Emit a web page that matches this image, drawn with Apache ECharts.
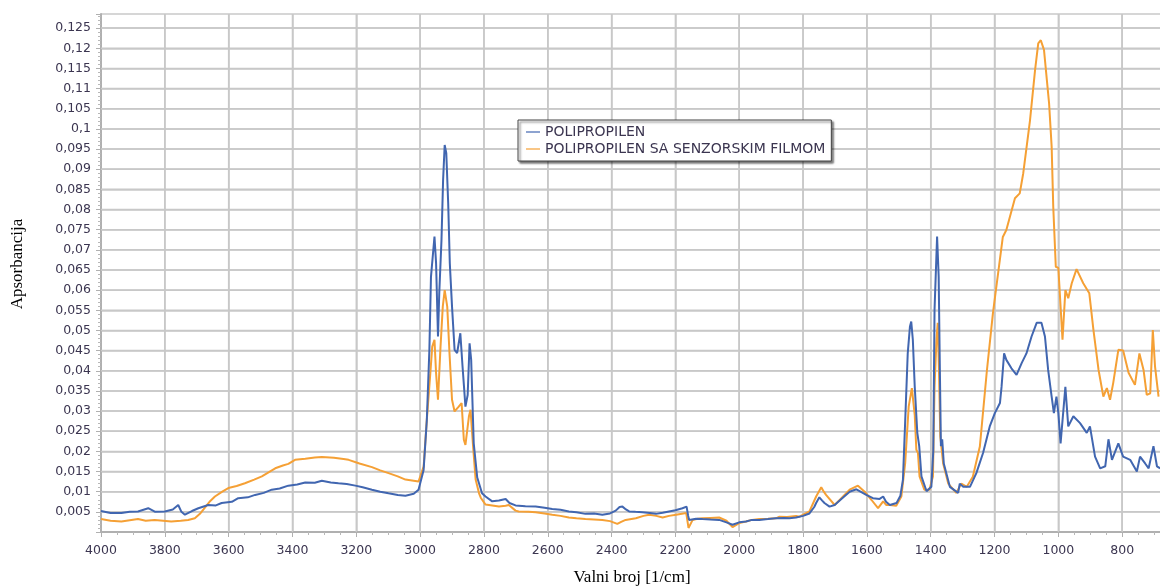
<!DOCTYPE html>
<html>
<head>
<meta charset="utf-8">
<script src="https://cdn.jsdelivr.net/npm/echarts@6/dist/echarts.min.js"></script>
<style>
html,body{margin:0;padding:0;background:#fff;}
#c{width:1160px;height:588px;}
</style>
</head>
<body>
<div id="c"></div>
<script>
const seriesNames = ['POLIPROPILEN', 'POLIPROPILEN SA SENZORSKIM FILMOM'];
const xTitle = 'Valni broj [1/cm]';
const yTitle = 'Apsorbancija';

const blueWave = [4000,3970,3936,3910,3884,3852,3830,3800,3775,3758,3748,3737,3715,3695,3664,3640,3622,3590,3570,3540,3517,3490,3465,3440,3413,3385,3360,3330,3308,3280,3256,3230,3203,3180,3151,3125,3099,3070,3046,3020,3005,2989,2979,2971,2966,2955,2950,2944,2940,2933,2928,2923,2918,2912,2907,2900,2892,2884,2874,2867,2858,2851,2845,2840,2832,2821,2806,2795,2774,2753,2732,2720,2701,2670,2638,2610,2586,2560,2534,2510,2482,2455,2429,2405,2387,2375,2366,2355,2345,2325,2303,2280,2261,2240,2220,2200,2178,2165,2160,2157,2135,2115,2090,2063,2040,2021,2000,1979,1960,1937,1910,1885,1860,1843,1822,1800,1780,1765,1759,1749,1740,1733,1717,1701,1680,1654,1633,1620,1602,1581,1560,1549,1540,1528,1507,1495,1487,1479,1472,1465,1461,1456,1450,1442,1436,1429,1413,1398,1392,1388,1380,1375,1372,1368,1364,1359,1340,1314,1309,1298,1277,1257,1236,1215,1199,1183,1178,1170,1163,1147,1131,1115,1100,1084,1068,1053,1042,1032,1021,1014,1006,1000,993,989,978,969,953,932,911,901,885,869,853,843,832,812,797,775,754,744,728,717,702,691,681];
const blueAbs = [0.0052,0.0047,0.0047,0.0050,0.0051,0.0059,0.0050,0.0051,0.0056,0.0067,0.0050,0.0043,0.0052,0.0059,0.0067,0.0066,0.0072,0.0075,0.0084,0.0086,0.0092,0.0097,0.0105,0.0108,0.0115,0.0118,0.0123,0.0122,0.0127,0.0123,0.0121,0.0119,0.0115,0.0111,0.0105,0.0100,0.0096,0.0092,0.0090,0.0095,0.0105,0.0154,0.0278,0.0452,0.0633,0.0733,0.0667,0.0485,0.0593,0.0725,0.0873,0.0960,0.0940,0.0815,0.0667,0.0559,0.0452,0.0444,0.0493,0.0410,0.0311,0.0340,0.0468,0.0427,0.0220,0.0135,0.0096,0.0088,0.0076,0.0078,0.0082,0.0072,0.0066,0.0064,0.0063,0.0060,0.0057,0.0055,0.0051,0.0049,0.0045,0.0046,0.0043,0.0046,0.0053,0.0062,0.0063,0.0056,0.0051,0.0050,0.0049,0.0047,0.0045,0.0048,0.0051,0.0054,0.0059,0.0063,0.0040,0.0030,0.0033,0.0032,0.0031,0.0030,0.0024,0.0018,0.0024,0.0026,0.0030,0.0030,0.0032,0.0034,0.0035,0.0034,0.0036,0.0040,0.0046,0.0062,0.0072,0.0086,0.0078,0.0072,0.0063,0.0067,0.0082,0.0100,0.0106,0.0100,0.0092,0.0084,0.0082,0.0088,0.0075,0.0067,0.0072,0.0090,0.0130,0.0295,0.0443,0.0510,0.0522,0.0477,0.0360,0.0246,0.0213,0.0138,0.0101,0.0112,0.0200,0.0551,0.0733,0.0633,0.0443,0.0213,0.0230,0.0170,0.0112,0.0097,0.0120,0.0112,0.0112,0.0146,0.0196,0.0262,0.0295,0.0320,0.0360,0.0443,0.0427,0.0406,0.0390,0.0419,0.0443,0.0485,0.0519,0.0519,0.0485,0.0402,0.0336,0.0295,0.0336,0.0295,0.0220,0.0216,0.0360,0.0262,0.0287,0.0270,0.0246,0.0262,0.0187,0.0158,0.0163,0.0230,0.0179,0.0220,0.0187,0.0179,0.0150,0.0187,0.0170,0.0158,0.0213,0.0163,0.0158];

const orangeWave = [4000,3970,3936,3910,3884,3860,3832,3805,3780,3750,3727,3706,3690,3680,3660,3643,3620,3601,3575,3549,3520,3496,3475,3454,3430,3413,3392,3360,3330,3308,3270,3240,3224,3190,3151,3125,3099,3070,3046,3005,2989,2979,2968,2962,2955,2950,2944,2936,2929,2923,2915,2908,2900,2892,2879,2870,2863,2858,2847,2842,2834,2826,2815,2810,2795,2774,2753,2732,2722,2701,2691,2660,2638,2610,2586,2560,2534,2510,2482,2455,2429,2405,2382,2370,2356,2324,2300,2282,2260,2240,2220,2198,2166,2159,2146,2130,2115,2090,2063,2040,2021,2000,1979,1960,1937,1910,1885,1874,1850,1822,1811,1780,1759,1743,1735,1728,1701,1680,1654,1628,1607,1586,1565,1549,1539,1528,1508,1492,1480,1469,1459,1450,1445,1440,1435,1420,1404,1393,1388,1382,1378,1374,1370,1361,1345,1320,1304,1287,1268,1246,1224,1205,1174,1163,1136,1121,1110,1089,1073,1063,1055,1045,1029,1021,1016,1008,1000,987,981,978,969,958,943,922,903,890,874,859,848,838,828,812,797,780,760,746,733,723,712,704,697,686];
const orangeAbs = [0.0032,0.0028,0.0026,0.0029,0.0032,0.0028,0.0030,0.0028,0.0026,0.0028,0.0030,0.0034,0.0045,0.0055,0.0075,0.0088,0.0100,0.0109,0.0114,0.0121,0.0130,0.0138,0.0148,0.0158,0.0165,0.0169,0.0179,0.0182,0.0185,0.0186,0.0184,0.0181,0.0179,0.0170,0.0161,0.0153,0.0146,0.0138,0.0130,0.0125,0.0162,0.0278,0.0394,0.0460,0.0477,0.0394,0.0328,0.0460,0.0559,0.0600,0.0559,0.0444,0.0328,0.0299,0.0311,0.0320,0.0229,0.0216,0.0287,0.0303,0.0212,0.0130,0.0095,0.0085,0.0068,0.0066,0.0063,0.0065,0.0067,0.0053,0.0051,0.0050,0.0049,0.0046,0.0043,0.0040,0.0036,0.0034,0.0032,0.0031,0.0030,0.0027,0.0020,0.0025,0.0030,0.0034,0.0040,0.0043,0.0040,0.0036,0.0040,0.0043,0.0047,0.0010,0.0030,0.0033,0.0034,0.0035,0.0036,0.0028,0.0012,0.0022,0.0026,0.0030,0.0032,0.0033,0.0034,0.0038,0.0037,0.0040,0.0038,0.0051,0.0088,0.0111,0.0100,0.0092,0.0067,0.0084,0.0105,0.0115,0.0100,0.0080,0.0059,0.0076,0.0067,0.0067,0.0065,0.0088,0.0171,0.0311,0.0357,0.0290,0.0204,0.0196,0.0138,0.0105,0.0105,0.0138,0.0360,0.0477,0.0519,0.0400,0.0237,0.0170,0.0120,0.0097,0.0120,0.0112,0.0137,0.0212,0.0400,0.0543,0.0732,0.0749,0.0828,0.0840,0.0890,0.1020,0.1146,0.1212,0.1220,0.1196,0.1063,0.0956,0.0807,0.0658,0.0655,0.0477,0.0475,0.0600,0.0580,0.0617,0.0652,0.0617,0.0592,0.0501,0.0402,0.0336,0.0357,0.0328,0.0370,0.0452,0.0450,0.0395,0.0365,0.0443,0.0402,0.0340,0.0344,0.0501,0.0410,0.0336];

// gridline tick values
const xGridVals = [3800,3600,3400,3200,3000,2800,2600,2400,2200,2000,1800,1600,1400,1200,1000,800];
const yGridVals = [0.005,0.01,0.015,0.02,0.025,0.03,0.035,0.04,0.045,0.05,0.055,0.06,0.065,0.07,0.075,0.08,0.085,0.09,0.095,0.1,0.105,0.11,0.115,0.12,0.125];

const xMin = 600, xMax = 4000, yMin = 0, yMax = 0.1285;
const xTickStep = 200;
const yTickStep = 0.005;

function pairs(xs, ys) { return xs.map((x, i) => [x, ys[i]]); }

// grid line segments built from tick values and axis extent, separated by gaps
function gridSegments() {
  const out = [];
  xGridVals.forEach(v => { out.push([v, yMin], [v, yMax], ['-', '-']); });
  yGridVals.forEach(v => { out.push([xMin, v], [xMax, v], ['-', '-']); });
  return out;
}

const chart = echarts.init(document.getElementById('c'));
const labelFont = 'DejaVu Sans';
const labelColor = '#3b3550';
const colors = ['#4166b0', '#f5a035'];
const gridColor = '#c8c8c8';

chart.setOption({
  animation: false,
  grid: {left: 101, width: 1085, top: 14, height: 518, outerBoundsMode: 'none'},
  legend: {
    orient: 'vertical',
    left: 518, top: 120,
    padding: [5, 6, 5, 8],
    itemGap: 3,
    itemWidth: 14,
    itemHeight: 2,
    icon: 'rect',
    backgroundColor: '#ffffff',
    borderColor: '#444444',
    borderWidth: 1,
    shadowColor: 'rgba(0,0,0,0.55)',
    shadowBlur: 2,
    shadowOffsetX: 2,
    shadowOffsetY: 2,
    textStyle: {fontFamily: labelFont, fontSize: 14, color: labelColor},
    data: seriesNames.map((n, i) => ({name: n, itemStyle: {color: colors[i], opacity: 0.6}}))
  },
  xAxis: {
    type: 'value',
    inverse: true,
    min: xMin, max: xMax,
    interval: xTickStep,
    axisLine: {show: true, onZero: false, lineStyle: {color: '#b0b0b0', width: 2}},
    axisTick: {show: true, length: 5, lineStyle: {color: '#b0b0b0', width: 1}},
    minorTick: {show: true, splitNumber: 4, length: 3, lineStyle: {color: '#b8b8b8'}},
    splitLine: {show: true, lineStyle: {color: gridColor, width: 1.5}},
    axisLabel: {fontFamily: labelFont, fontSize: 12.5, color: labelColor, margin: 12, formatter: v => String(v)}
  },
  yAxis: {
    type: 'value',
    min: yMin, max: yMax,
    interval: yTickStep,
    axisLine: {show: true, onZero: false, lineStyle: {color: '#b0b0b0', width: 2}},
    axisTick: {show: true, length: 5, lineStyle: {color: '#b0b0b0', width: 1}},
    minorTick: {show: true, splitNumber: 5, length: 3, lineStyle: {color: '#b8b8b8'}},
    splitLine: {show: true, lineStyle: {color: gridColor, width: 1.5}},
    axisLabel: {
      fontFamily: labelFont, fontSize: 12.5, color: labelColor, margin: 10,
      showMinLabel: false, showMaxLabel: false,
      formatter: v => String(+v.toFixed(4)).replace('.', ',')
    }
  },
  graphic: [
    {type: 'text', x: 632, y: 578, style: {text: xTitle, font: '17px "Liberation Serif"', fill: '#000', align: 'center', verticalAlign: 'middle', textAlign: 'center', textVerticalAlign: 'middle'}},
    {type: 'text', x: 18, y: 264, rotation: Math.PI / 2, style: {text: yTitle, font: '17px "Liberation Serif"', fill: '#000', align: 'center', verticalAlign: 'middle', textAlign: 'center', textVerticalAlign: 'middle'}}
  ],
  series: [
    {
      name: 'gridlines', type: 'line', data: gridSegments(), z: 1, silent: true,
      showSymbol: false, symbol: 'none', connectNulls: false, clip: true,
      itemStyle: {color: gridColor},
      lineStyle: {width: 1.5, color: gridColor},
      emphasis: {disabled: true}, tooltip: {show: false}
    },
    {name: seriesNames[0], type: 'line', data: pairs(blueWave, blueAbs), showSymbol: false, symbol: 'none', itemStyle: {color: colors[0]}, lineStyle: {width: 2, color: colors[0]}, z: 3},
    {name: seriesNames[1], type: 'line', data: pairs(orangeWave, orangeAbs), showSymbol: false, symbol: 'none', itemStyle: {color: colors[1]}, lineStyle: {width: 2, color: colors[1]}, z: 2}
  ]
});
</script>
</body>
</html>
